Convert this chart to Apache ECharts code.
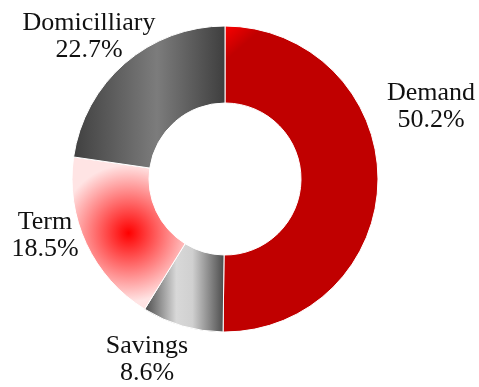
<!DOCTYPE html>
<html>
<head>
<meta charset="utf-8">
<script src="https://cdn.jsdelivr.net/npm/echarts@6/dist/echarts.min.js"></script>
<style>
  html, body { margin: 0; padding: 0; background: #fff; }
  #chart { width: 479px; height: 387px; }
</style>
</head>
<body>
<div id="chart"></div>
<script>
// Deposit mix by account type (share of total, %)
const categories = ['Demand', 'Savings', 'Term', 'Domicilliary'];
const shares = [50.2, 8.6, 18.5, 22.7];

// Label anchor points (centre of each two-line label)
const labelAnchors = [
  [431, 107],
  [147, 360],
  [45, 236],
  [89, 37]
];

const fills = [
  // Demand: deep red, brighter at the top-left edge
  new echarts.graphic.LinearGradient(0, 0, 0.6, 0.35, [
    { offset: 0, color: '#ff0000' },
    { offset: 0.2, color: '#c00000' },
    { offset: 1, color: '#c00000' }
  ]),
  // Savings: metallic grey band
  new echarts.graphic.LinearGradient(0, 0, 1, 0, [
    { offset: 0, color: '#4a4a4a' },
    { offset: 0.4, color: '#d8d8d8' },
    { offset: 0.6, color: '#d0d0d0' },
    { offset: 1, color: '#4a4a4a' }
  ]),
  // Term: red glow fading to pale pink
  new echarts.graphic.RadialGradient(0.5, 0.5, 0.6, [
    { offset: 0, color: '#ff0000' },
    { offset: 1, color: '#ffe4e4' }
  ]),
  // Domicilliary: dark grey band
  new echarts.graphic.LinearGradient(0, 0, 1, 0, [
    { offset: 0, color: '#404040' },
    { offset: 0.55, color: '#7c7c7c' },
    { offset: 1, color: '#3e3e3e' }
  ])
];

const chart = echarts.init(document.getElementById('chart'));
chart.setOption({
  animation: false,
  series: [{
    type: 'pie',
    center: [225, 179],
    radius: [76, 153],
    startAngle: 90,
    clockwise: true,
    silent: true,
    itemStyle: { borderColor: '#ffffff', borderWidth: 1 },
    label: {
      show: true,
      position: 'outside',
      formatter: p => p.name + '\n' + p.value.toFixed(1) + '%',
      fontFamily: 'Liberation Serif',
      fontSize: 26,
      lineHeight: 27,
      color: '#111111',
      align: 'center',
      overflow: 'none'
    },
    labelLine: { show: false },
    labelLayout: params => ({
      x: labelAnchors[params.dataIndex][0],
      y: labelAnchors[params.dataIndex][1],
      align: 'center',
      verticalAlign: 'middle',
      hideOverlap: false
    }),
    data: categories.map((name, i) => ({
      name: name,
      value: shares[i],
      itemStyle: { color: fills[i] }
    }))
  }]
});
</script>
</body>
</html>
